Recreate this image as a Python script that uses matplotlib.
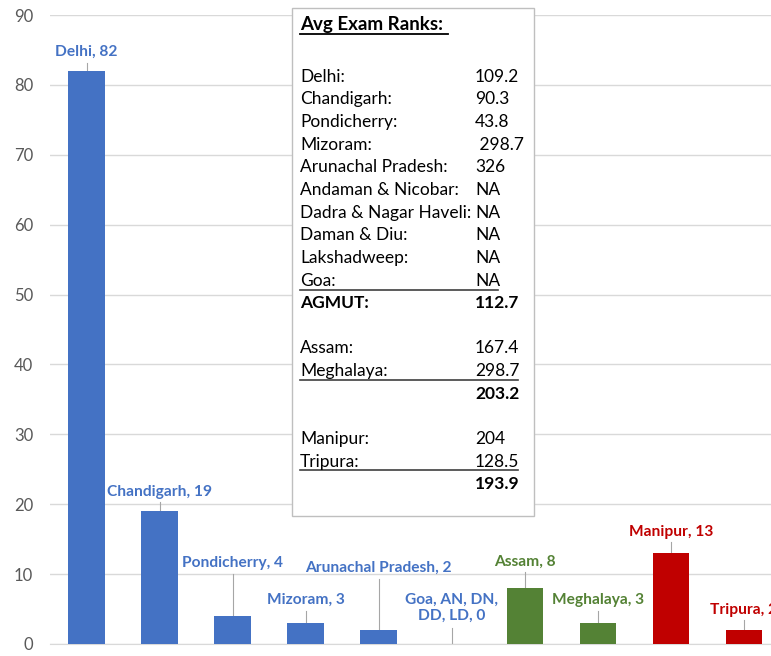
import numpy as np
import matplotlib.pyplot as plt
from matplotlib.lines import Line2D
from matplotlib.patches import Rectangle

plt.rcParams['font.family'] = ['Lato', 'DejaVu Sans']

# dados das barras
estados = ['Delhi', 'Chandigarh', 'Pondicherry', 'Mizoram', 'Arunachal Pradesh',
           'Goa, AN, DN,\nDD, LD', 'Assam', 'Meghalaya', 'Manipur', 'Tripura']
valores = [82, 19, 4, 3, 2, 0, 8, 3, 13, 2]
grupos = ['AGMUT'] * 6 + ['NE1'] * 2 + ['NE2'] * 2

# tabela de ranks
nomes_rank = ['Delhi:', 'Chandigarh:', 'Pondicherry:', 'Mizoram:', 'Arunachal Pradesh:',
              'Andaman & Nicobar:', 'Dadra & Nagar Haveli:', 'Daman & Diu:',
              'Lakshadweep:', 'Goa:', 'AGMUT:', '',
              'Assam:', 'Meghalaya:', '', '',
              'Manipur:', 'Tripura:', '']
valores_rank = ['109.2', '90.3', '43.8', ' 298.7', '326', 'NA', 'NA', 'NA', 'NA', 'NA',
                '112.7', '', '167.4', '298.7', '203.2', '', '204', '128.5', '193.9']
negrito = [10, 14, 18]

cores = {'AGMUT': '#4472C4', 'NE1': '#548235', 'NE2': '#C00000'}

# posicao do rotulo (centro, em unidades de y) e topo da linha guia
rotulo_y = [84.7, 21.7, 11.6, 6.3, 10.9, 5.2, 11.7, 6.3, 16.0, 4.9]
guia_topo = [83.1, 20.3, 10.0, 4.7, 9.3, 2.3, 10.3, 4.7, 14.6, 3.4]

W, H = 771, 656
fig = plt.figure(figsize=(W / 100, H / 100), dpi=100)
ax = fig.add_axes([50 / W, 1 - 644 / H, 730.5 / W, 629 / H])

x = np.arange(len(valores))
cor_barras = [cores[g] for g in grupos]
ax.bar(x, valores, width=0.5, color=cor_barras, zorder=3)

for i, v in enumerate(valores):
    ax.plot([i, i], [v, guia_topo[i]], color='#A6A6A6', lw=0.8, zorder=2)
    ax.text(i, rotulo_y[i], f'{estados[i]}, {v}', ha='center', va='center',
            color=cor_barras[i], fontsize=11.2, fontweight='bold',
            linespacing=1.2, zorder=4, clip_on=False)

ax.set_xlim(-0.5, len(valores) - 0.5)
ax.set_ylim(0, 90)
ax.set_yticks(np.arange(0, 91, 10))
ax.set_xticks([])
ax.grid(axis='y', color='#D9D9D9', lw=1, zorder=0)
for s in ['top', 'right', 'left']:
    ax.spines[s].set_visible(False)
ax.spines['bottom'].set_color('#D9D9D9')
ax.tick_params(axis='y', length=0, labelsize=12, labelcolor='#595959', pad=12)

# caixa de texto
def fx(px):
    return px / W

def fy(py):
    return 1 - py / H

fig.patches.append(Rectangle((fx(291.5), fy(516)), fx(534) - fx(291.5), fy(8.5) - fy(516),
                             transform=fig.transFigure, facecolor='white',
                             edgecolor='#BFBFBF', lw=1, zorder=5))
fig.text(fx(300), fy(30), 'Avg Exam Ranks:', fontsize=13.5, fontweight='bold',
         va='baseline', zorder=6)
fig.lines.append(Line2D([fx(300), fx(448)], [fy(34), fy(34)], transform=fig.transFigure,
                        color='black', lw=1.3, zorder=6))

for i, (n, v) in enumerate(zip(nomes_rank, valores_rank)):
    yb = 81.7 + i * 22.65
    peso = 'bold' if i in negrito else 'normal'
    fig.text(fx(300), fy(yb), n, fontsize=12.5, fontweight=peso, va='baseline', zorder=6)
    fig.text(fx(475), fy(yb), v, fontsize=12.5, fontweight=peso, va='baseline', zorder=6)

for y0, x1 in [(290, 498), (380, 518), (470, 518)]:
    fig.lines.append(Line2D([fx(300), fx(x1)], [fy(y0), fy(y0)], transform=fig.transFigure,
                            color='#404040', lw=1.2, zorder=6))

fig.savefig('out.png', dpi=100)
